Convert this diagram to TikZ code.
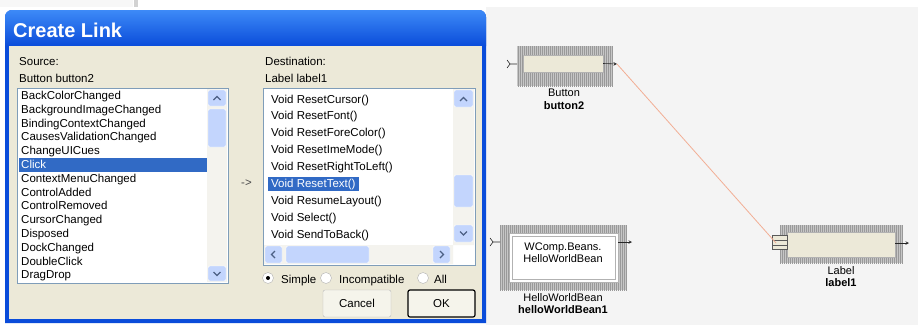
\documentclass[tikz,border=0pt]{standalone}
\usepackage{fontspec}
\setmainfont{Liberation Sans}
\usetikzlibrary{patterns.meta}
\definecolor{xpblue}{HTML}{0A4CDA}
\definecolor{xptop}{HTML}{3D8AF7}
\definecolor{dlgbg}{HTML}{ECE9D8}
\definecolor{selblue}{HTML}{316AC5}
\definecolor{boxline}{HTML}{7F9DB9}
\definecolor{sbtrack}{HTML}{F4F3EE}
\definecolor{sbbtn}{HTML}{C3D5FD}
\definecolor{sbarrow}{HTML}{4D6185}
\definecolor{canvas}{HTML}{F4F4F4}
\definecolor{linkcol}{HTML}{F2AE94}
\begin{document}
\begin{tikzpicture}[x=1pt, y=-1pt, >=stealth,
	txt/.style={font=\fontsize{11.5}{13}\selectfont, inner sep=0pt, anchor=base west},
	small/.style={font=\fontsize{11}{12}\selectfont, inner sep=0pt},
	hatch/.style={fill=gray!45, postaction={pattern={Lines[angle=90,distance=2pt,line width=.8pt]}, pattern color=gray!80}},
	sbbox/.style={fill=sbbtn, draw=white, rounded corners=1.5pt},
	chev/.style={draw=sbarrow, line width=1.3pt},
	radio/.style={circle, draw=gray!60, fill=white, minimum size=11pt, inner sep=0pt},
	btn/.style={draw=gray!55, fill=dlgbg!50!white, rounded corners=2pt, minimum height=27pt, font=\fontsize{11.5}{13}\selectfont},
	comp/.style={draw=gray!60, fill=dlgbg, inner sep=0pt},
	port/.style={draw=gray!30!black, line width=.6pt},
	link/.style={draw=linkcol, line width=.8pt}]
	\useasboundingbox (0,0) rectangle (918,325);
	\fill[gray!6] (0,0) rectangle (133,7);
	\fill[gray!35] (134,0) rectangle (138,7);
	\fill[canvas] (486,7) rectangle (918,325);
	% dialog frame and title
	\fill[xpblue] (5,323) [rounded corners=7pt] -- (5,10) -- (486,10) [sharp corners] -- (486,323) -- cycle;
	\shade[top color=xptop, bottom color=xpblue] (5,46) [rounded corners=7pt] -- (5,10) -- (486,10) [sharp corners] -- (486,46) -- cycle;
	\fill[dlgbg] (9,46) rectangle (482,319);
	\node[anchor=base west, inner sep=0pt, text=white, font=\fontsize{20}{23}\selectfont\bfseries] (title) at (13,37) {Create Link};
	\node[txt] (srclbl) at (19,65) {Source:};
	\node[txt] (srcname) at (19,82) {Button button2};
	\node[txt] (dstlbl) at (265,65) {Destination:};
	\node[txt] (dstname) at (265,82) {Label label1};
	% source list
	\draw[boxline, fill=white] (17,88) rectangle (228,283);
	\fill[selblue] (19,158) rectangle (207,172);
	\foreach \t/\c [count=\i from 0] in {BackColorChanged/black, BackgroundImageChanged/black, BindingContextChanged/black, CausesValidationChanged/black, ChangeUICues/black, Click/white, ContextMenuChanged/black, ControlAdded/black, ControlRemoved/black, CursorChanged/black, Disposed/black, DockChanged/black, DoubleClick/black, DragDrop/black}{
	\node[txt, text=\c] (src\i) at (21,99.5+13.8*\i) {\t};
	}
	\fill[sbtrack] (207,89) rectangle (227,282);
	\path[sbbox] (208,90) rectangle (226,106) (208,109) rectangle (226,147) (208,266) rectangle (226,281);
	\draw[chev] (213.5,100) -- (217,96.5) -- (220.5,100) (213.5,272) -- (217,275.5) -- (220.5,272);
	\node[txt, text=gray!60!black] (arrowsym) at (241,186) {->};
	% destination list
	\draw[boxline, fill=white] (263,88) rectangle (475,265);
	\fill[selblue] (268,177) rectangle (359,191);
	\foreach \t/\c [count=\i from 0] in {Void ResetCursor()/black, Void ResetFont()/black, Void ResetForeColor()/black, Void ResetImeMode()/black, Void ResetRightToLeft()/black, Void ResetText()/white, Void ResumeLayout()/black, Void Select()/black, Void SendToBack()/black}{
	\node[txt, text=\c] (dst\i) at (271,103+16.9*\i) {\t};
	}
	\fill[sbtrack] (453,89) rectangle (474,245) (264,245) rectangle (453,264);
	\path[sbbox] (454,90) rectangle (473,107) (454,175) rectangle (473,207) (454,225) rectangle (473,242)
		(265,246) rectangle (282,263) (286,246) rectangle (369,263) (433,246) rectangle (450,263);
	\draw[chev] (460,101) -- (463.5,97.5) -- (467,101) (460,231.5) -- (463.5,235) -- (467,231.5)
		(275,251) -- (271.5,254.5) -- (275,258) (440,251) -- (443.5,254.5) -- (440,258);
	% options and buttons
	\node[radio] (rsimple) at (268,278) {};
	\fill (rsimple) circle (2);
	\node[radio] (rincomp) at (326,278) {};
	\node[radio] (rall) at (423,278) {};
	\node[txt] (simple) at (281,283) {Simple};
	\node[txt] (incomp) at (339,283) {Incompatible};
	\node[txt] (all) at (434,283) {All};
	\node[btn, minimum width=68pt] (cancel) at (357,303.5) {Cancel};
	\node[btn, minimum width=67pt, draw=black, line width=1.2pt] (ok) at (441.5,303.5) {OK};
	% components on the canvas
	\path[hatch] (517,46) rectangle (613,86);
	\node[comp, minimum width=80pt, minimum height=17pt] (button2) at (563,63.5) {};
	\path (517,64) coordinate (button2in) (617,64) coordinate (button2out);
	\draw[port] (button2in) -- ++(-7,0) -- ++(-3,-4) ++(3,4) -- ++(-3,4);
	\draw[port,->] (button2.east) -- (button2out);
	\node[small] (button2type) at (564,93) {Button};
	\node[small, font=\fontsize{11}{12}\selectfont\bfseries] (button2name) at (564,106) {button2};
	\path[hatch] (500,225) rectangle (627,290);
	\node[draw=gray!60, fill=white, minimum width=109pt, minimum height=49pt, inner sep=0pt] (bean) at (563.5,257.5) {};
	\draw[gray!60] (512,236) rectangle (615,279);
	\node[small, align=center] (beanclass) at (563,253) {WComp.Beans.\\HelloWorldBean};
	\path (500,242) coordinate (beanin) (632,242) coordinate (beanout);
	\draw[port] (beanin) -- ++(-7,0) -- ++(-3,-4) ++(3,4) -- ++(-3,4);
	\draw[port,->] (bean.east |- beanout) -- (beanout);
	\node[small] (beantype) at (563,298) {HelloWorldBean};
	\node[small, font=\fontsize{11}{12}\selectfont\bfseries] (beanname) at (563,310) {helloWorldBean1};
	\path[hatch] (780,225) rectangle (903,263);
	\node[comp, minimum width=108pt, minimum height=25pt] (label1) at (841,244.5) {};
	\draw[port, draw=gray!70!black, fill=dlgbg] (772,235) rectangle (787,249) (772,240) -- (787,240) (772,245) -- (787,245);
	\path (776,243) coordinate (label1in) (909,243) coordinate (label1out);
	\draw[port,->] (label1.east |- label1out) -- (label1out);
	\node[small] (label1type) at (841,271) {Label};
	\node[small, font=\fontsize{11}{12}\selectfont\bfseries] (label1name) at (841,283) {label1};
	\draw[link] (button2out) -- (label1in);
\end{tikzpicture}
\end{document}
